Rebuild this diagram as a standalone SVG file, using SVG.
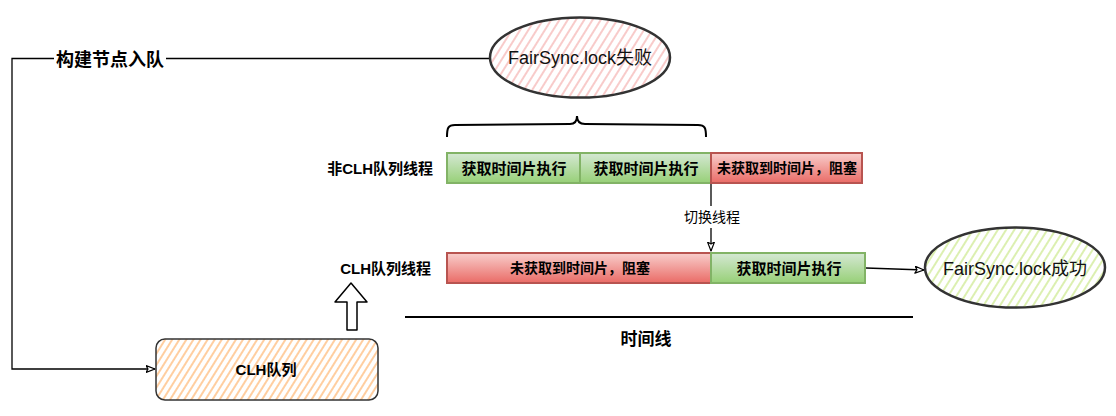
<svg xmlns="http://www.w3.org/2000/svg" width="1116" height="416" viewBox="0 0 1116 416">
<defs>
<style>
text{font-family:"Liberation Sans","Noto Sans CJK SC",sans-serif;fill:#000;}
.b{font-weight:bold;}
.lbl{font-size:15px;font-weight:bold;text-anchor:end;dominant-baseline:central;}
.box{font-size:15px;font-weight:bold;text-anchor:middle;dominant-baseline:central;}
.boxr{font-size:14px;font-weight:bold;text-anchor:middle;dominant-baseline:central;}
.ell{font-size:18px;text-anchor:middle;dominant-baseline:central;fill:#111;}
.edge{fill:none;stroke:#000;stroke-width:1.3;}
.green{fill:url(#gGreen);stroke:#82b366;stroke-width:2;}
.red{fill:url(#gRed);stroke:#b85450;stroke-width:2;}
</style>
<linearGradient id="gGreen" x1="0" y1="0" x2="0" y2="1">
<stop offset="0" stop-color="#d5e8d4"/>
<stop offset="1" stop-color="#97d077"/>
</linearGradient>
<linearGradient id="gRed" x1="0" y1="0" x2="0" y2="1">
<stop offset="0" stop-color="#f8cecc"/>
<stop offset="1" stop-color="#ea6b66"/>
</linearGradient>
<pattern id="hRed" width="7" height="7" patternUnits="userSpaceOnUse" patternTransform="rotate(32)">
<line x1="2" y1="0" x2="2" y2="7" stroke="#f5b5b3" stroke-width="1.4"/>
</pattern>
<pattern id="hGreen" width="7" height="7" patternUnits="userSpaceOnUse" patternTransform="rotate(32)">
<line x1="2" y1="0" x2="2" y2="7" stroke="#cde98f" stroke-width="1.4"/>
</pattern>
<pattern id="hOrange" width="6" height="6" patternUnits="userSpaceOnUse" patternTransform="rotate(32)">
<line x1="2" y1="0" x2="2" y2="6" stroke="#ffbd80" stroke-width="1.5"/>
</pattern>
<marker id="arr" viewBox="0 0 10 8" refX="9.5" refY="4" markerWidth="10" markerHeight="8" markerUnits="userSpaceOnUse" orient="auto">
<path d="M0.5,0.5 L9.5,4 L0.5,7.5 L2.5,4 Z" fill="#fff" stroke="#000" stroke-width="1.2" stroke-linejoin="round"/>
</marker>
</defs>
<rect width="1116" height="416" fill="#fff"/>

<g id="connectors">
<path class="edge" d="M490,58.5 L12,58.5 L12,369 L155,369" marker-end="url(#arr)"/>
<rect x="54" y="47" width="112" height="24" fill="#fff"/>
<text class="b" x="110" y="59.5" font-size="18" text-anchor="middle" dominant-baseline="central">构建节点入队</text>
<path class="edge" d="M711,183 L711,251" marker-end="url(#arr)"/>
<rect x="682" y="206" width="60" height="22" fill="#fff"/>
<text x="712" y="217" font-size="14" text-anchor="middle" dominant-baseline="central">切换线程</text>
<path class="edge" d="M866,268 L924,270" marker-end="url(#arr)"/>
</g>

<g id="node-fail">
<ellipse cx="580" cy="57.5" rx="90" ry="40" fill="url(#hRed)" stroke="#333" stroke-width="2.5"/>
<text class="ell" x="580" y="58">FairSync.lock失败</text>
</g>

<g id="brace">
<path d="M447,137 C447,128 448,125 455,125 L570,124 C575,124 577,121 577,116 C577,121 580,124 585,124 L698,125 C705,125 706,128 706,137" fill="none" stroke="#000" stroke-width="2"/>
</g>

<g id="row-nonclh">
<text class="lbl" x="433" y="168">非CLH队列线程</text>
</g>
<g id="n1-exec1">
<rect class="green" x="447" y="153" width="133" height="30"/>
<text class="box" x="514" y="168">获取时间片执行</text>
</g>
<g id="n1-exec2">
<rect class="green" x="580" y="153" width="131" height="30"/>
<text class="box" x="646" y="168">获取时间片执行</text>
</g>
<g id="n1-block">
<rect class="red" x="711" y="153" width="151" height="30"/>
<text class="boxr" x="787" y="168">未获取到时间片，阻塞</text>
</g>

<g id="row-clh">
<text class="lbl" x="431" y="268">CLH队列线程</text>
</g>
<g id="n2-block">
<rect class="red" x="447" y="253" width="264" height="30"/>
<text class="boxr" x="580" y="268">未获取到时间片，阻塞</text>
</g>
<g id="n2-exec">
<rect class="green" x="711" y="253" width="154" height="30"/>
<text class="box" x="789" y="268">获取时间片执行</text>
</g>

<g id="node-success">
<ellipse cx="1015" cy="267.5" rx="90" ry="40" fill="url(#hGreen)" stroke="#333" stroke-width="2.5"/>
<text class="ell" x="1015" y="269">FairSync.lock成功</text>
</g>

<g id="timeline">
<line x1="405" y1="317" x2="913" y2="317" stroke="#000" stroke-width="2"/>
<text class="b" x="646" y="339" font-size="17" text-anchor="middle" dominant-baseline="central">时间线</text>
</g>

<g id="up-arrow">
<path d="M351,283 L367,302 L357,302 L357,330 L347,330 L347,302 L335,302 Z" fill="#fff" stroke="#000" stroke-width="1.5" stroke-linejoin="round"/>
</g>

<g id="node-clh-queue">
<rect x="156" y="339" width="222" height="61" rx="9" ry="9" fill="url(#hOrange)" stroke="#333" stroke-width="1.5"/>
<text class="b" x="266" y="369" font-size="15" text-anchor="middle" dominant-baseline="central">CLH队列</text>
</g>
</svg>
